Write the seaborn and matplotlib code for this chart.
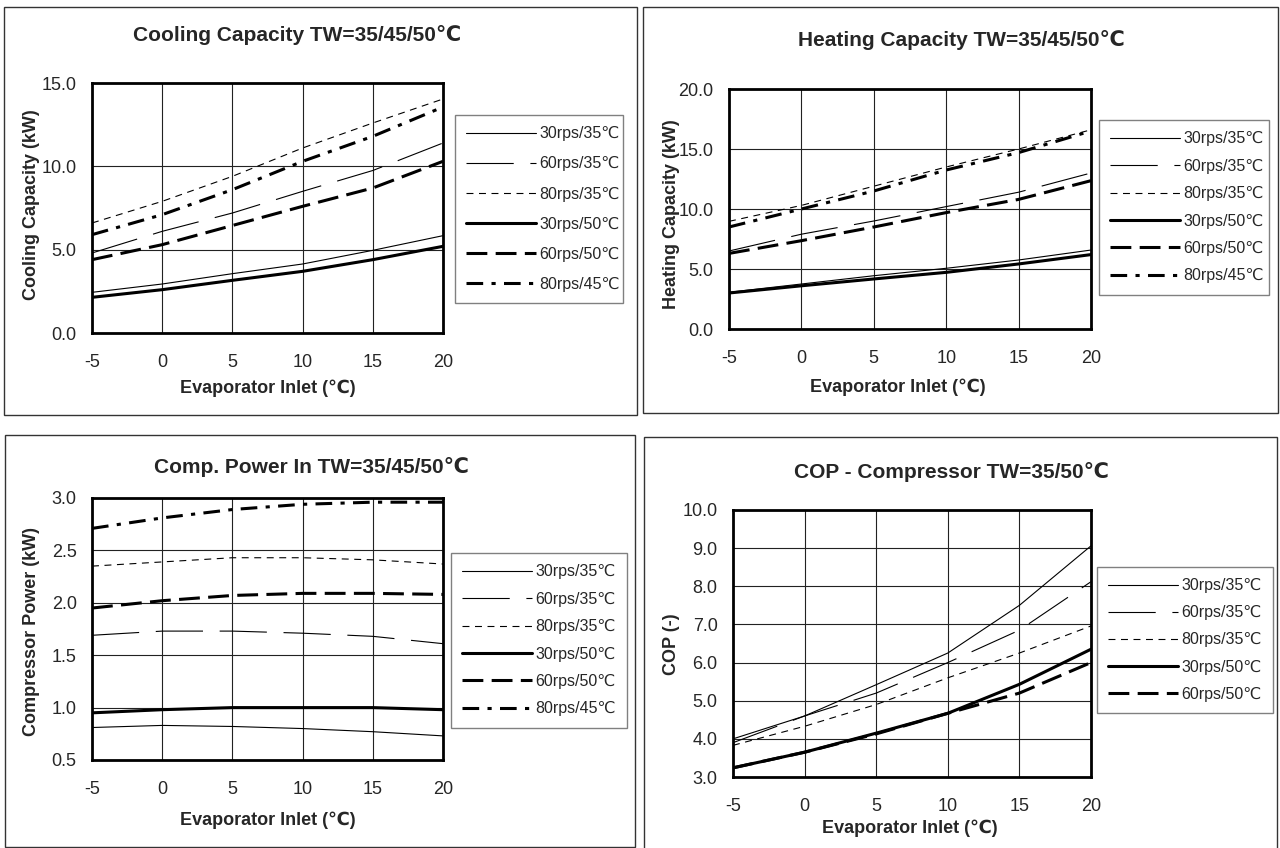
import matplotlib
matplotlib.use("Agg")
import matplotlib.pyplot as plt
from matplotlib.patches import Rectangle
from matplotlib.ticker import MultipleLocator
import numpy as np
import pandas as pd
import seaborn as sns

# evaporator inlet temperature (degC)
evap_temp = [-5, 0, 5, 10, 15, 20]

labels = ["30rps/35℃", "60rps/35℃", "80rps/35℃", "30rps/50℃", "60rps/50℃", "80rps/45℃"]

# cooling capacity (kW)
cool_30_35 = [2.44, 2.94, 3.56, 4.14, 4.96, 5.84]
cool_60_35 = [4.8, 6.1, 7.2, 8.5, 9.75, 11.4]
cool_80_35 = [6.6, 7.9, 9.4, 11.1, 12.6, 14.04]
cool_30_50 = [2.14, 2.6, 3.16, 3.7, 4.4, 5.2]
cool_60_50 = [4.4, 5.3, 6.45, 7.6, 8.7, 10.3]
cool_80_45 = [5.9, 7.1, 8.6, 10.3, 11.8, 13.56]

# heating capacity (kW)
heat_30_35 = [3.06, 3.75, 4.44, 5.06, 5.75, 6.58]
heat_60_35 = [6.5, 7.9, 9.0, 10.2, 11.4, 13.0]
heat_80_35 = [8.97, 10.3, 11.9, 13.5, 15.0, 16.6]
heat_30_50 = [3.0, 3.6, 4.17, 4.72, 5.42, 6.2]
heat_60_50 = [6.3, 7.36, 8.5, 9.7, 10.8, 12.36]
heat_80_45 = [8.5, 10.0, 11.5, 13.25, 14.7, 16.5]

# compressor power (kW)
power_30_35 = [0.81, 0.83, 0.82, 0.80, 0.77, 0.73]
power_60_35 = [1.69, 1.73, 1.73, 1.71, 1.68, 1.61]
power_80_35 = [2.35, 2.39, 2.43, 2.43, 2.41, 2.37]
power_30_50 = [0.95, 0.98, 1.0, 1.0, 1.0, 0.98]
power_60_50 = [1.95, 2.02, 2.07, 2.09, 2.09, 2.08]
power_80_45 = [2.71, 2.81, 2.89, 2.94, 2.96, 2.96]

# COP (-)
cop_30_35 = [4.0, 4.6, 5.42, 6.25, 7.5, 9.06]
cop_60_35 = [3.9, 4.6, 5.2, 6.0, 6.85, 8.12]
cop_80_35 = [3.83, 4.33, 4.9, 5.6, 6.25, 6.96]
cop_30_50 = [3.24, 3.65, 4.15, 4.67, 5.43, 6.35]
cop_60_50 = [3.24, 3.65, 4.13, 4.67, 5.2, 6.0]

sns.set_style("white")
plt.rcParams["font.family"] = ["Liberation Sans", "DejaVu Sans"]
plt.rcParams["lines.scale_dashes"] = False
plt.rcParams["axes.unicode_minus"] = False

# line styles: (linewidth, dash pattern)
styles = [
    (0.8, "-"),
    (0.8, (0, (34, 12))),
    (0.8, (0, (5, 4))),
    (2.2, "-"),
    (2.2, (0, (15, 6))),
    (2.2, (0, (12, 6, 3, 6))),
]

W, H = 1280, 848
fig = plt.figure(figsize=(W / 100, H / 100), dpi=100)


def fx(px):
    return px / W


def fy(py):
    return 1 - py / H


panels = [
    dict(box=(4, 7, 637, 415), ax=(92, 443, 83, 333),
         series=[cool_30_35, cool_60_35, cool_80_35, cool_30_50, cool_60_50, cool_80_45],
         ylim=(0, 15), ymaj=5, ymin=1,
         title="Cooling Capacity TW=35/45/50℃", title_pos=(297, 35),
         ylabel="Cooling Capacity (kW)", ylab=(32, 205), xlab=(268, 388),
         leg=(455, 115, 623), lspace=0.95),
    dict(box=(643, 7, 1278, 413), ax=(729, 1091, 89, 329),
         series=[heat_30_35, heat_60_35, heat_80_35, heat_30_50, heat_60_50, heat_80_45],
         ylim=(0, 20), ymaj=5, ymin=1,
         title="Heating Capacity TW=35/45/50℃", title_pos=(961, 40),
         ylabel="Heating Capacity (kW)", ylab=(671, 214), xlab=(898, 387),
         leg=(1099, 120, 1269), lspace=0.78),
    dict(box=(5, 435, 635, 847), ax=(92, 443, 498, 760),
         series=[power_30_35, power_60_35, power_80_35, power_30_50, power_60_50, power_80_45],
         ylim=(0.5, 3.0), ymaj=0.5, ymin=0.1,
         title="Comp. Power In TW=35/45/50℃", title_pos=(311, 467),
         ylabel="Compressor Power (kW)", ylab=(32, 632), xlab=(268, 820),
         leg=(451, 553, 627), lspace=0.78),
    dict(box=(644, 437, 1277, 850), ax=(733, 1091, 510, 777),
         series=[cop_30_35, cop_60_35, cop_80_35, cop_30_50, cop_60_50],
         ylim=(3.0, 10.0), ymaj=1.0, ymin=0.2,
         title="COP - Compressor TW=35/50℃", title_pos=(951, 472),
         ylabel="COP (-)", ylab=(671, 644), xlab=(910, 828),
         leg=(1097, 567, 1273), lspace=0.76),
]

for p in panels:
    bx0, by0, bx1, by1 = p["box"]
    fig.patches.append(Rectangle((fx(bx0), fy(by1)), fx(bx1 - bx0), (by1 - by0) / H,
                                 transform=fig.transFigure, fill=False,
                                 edgecolor="#333333", linewidth=1.0))

    x0, x1, y0, y1 = p["ax"]
    ax = fig.add_axes([fx(x0), fy(y1), fx(x1 - x0), (y1 - y0) / H])

    for vals, lab, (lw, ls) in zip(p["series"], labels, styles):
        df = pd.DataFrame({"t": evap_temp, "v": vals})
        sns.lineplot(data=df, x="t", y="v", ax=ax, color="black",
                     linewidth=lw, linestyle=ls, label=lab)

    ax.set_xlim(-5, 20)
    ax.set_ylim(*p["ylim"])
    ax.xaxis.set_major_locator(MultipleLocator(5))
    ax.xaxis.set_minor_locator(MultipleLocator(1))
    ax.set_yticks(np.arange(p["ylim"][0], p["ylim"][1] + 1e-9, p["ymaj"]))
    ax.yaxis.set_minor_locator(MultipleLocator(p["ymin"]))
    ax.set_yticklabels([f"{v:.1f}" for v in ax.get_yticks()])
    ax.grid(True, which="major", color="#222222", linewidth=0.8)
    ax.tick_params(which="both", direction="in", color="black", labelsize=13)
    ax.tick_params(which="major", length=0)
    ax.tick_params(which="minor", length=5, width=0.8)
    ax.tick_params(axis="x", which="major", pad=15)
    ax.tick_params(axis="y", which="major", pad=11)
    for s in ax.spines.values():
        s.set_linewidth(2.0)
        s.set_color("black")

    ax.set_xlabel("Evaporator Inlet (℃)", fontsize=13, fontweight="bold")
    ax.set_ylabel(p["ylabel"], fontsize=13, fontweight="bold")
    xl_x, xl_y = p["xlab"]
    ax.xaxis.set_label_coords((xl_x - x0) / (x1 - x0), (y1 - xl_y) / (y1 - y0))
    ax.xaxis.label.set_va("center")
    yl_x, yl_y = p["ylab"]
    ax.yaxis.set_label_coords((yl_x - x0) / (x1 - x0), (y1 - yl_y) / (y1 - y0))
    ax.yaxis.label.set_va("center")

    fig.text(fx(p["title_pos"][0]), fy(p["title_pos"][1]), p["title"],
             ha="center", va="center", fontsize=15, fontweight="bold")

    lx0, ly0, lx1 = p["leg"]
    leg = ax.legend(loc="upper left", bbox_to_anchor=(fx(lx0), fy(ly0), fx(lx1 - lx0), 0),
                    bbox_transform=fig.transFigure, mode="expand", borderaxespad=0,
                    frameon=True, fancybox=False, framealpha=1, edgecolor="#808080",
                    fontsize=11.5, handlelength=4.4, handletextpad=0.2,
                    labelspacing=p["lspace"], borderpad=0.7)
    leg.get_frame().set_linewidth(1.0)

fig.savefig("out.png", dpi=100)
